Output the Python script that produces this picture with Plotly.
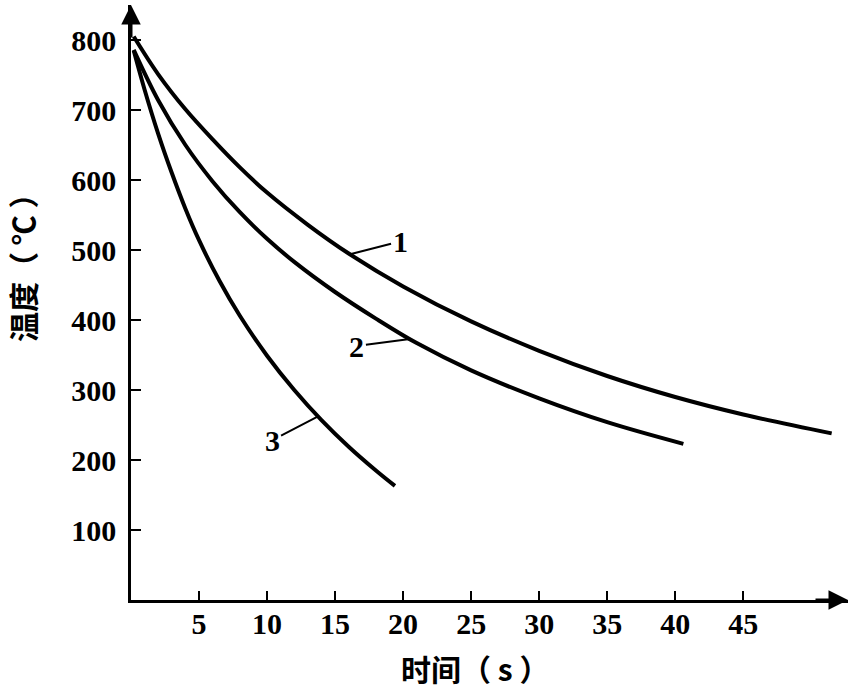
import numpy as np
import plotly.graph_objects as go

# ---- data ----
time_1 = [0.2, 2, 4, 6, 8, 10, 13, 16, 20, 25, 30, 35, 40, 45, 51.5]
temp_1 = [805, 751, 701, 658, 618, 582, 536, 495, 448, 398, 356, 320, 290, 265, 238]

time_2 = [0.2, 2, 4, 6, 8, 10, 12, 15, 18, 21, 25, 30, 35, 40.6]
temp_2 = [786, 714, 650, 598, 554, 516, 483, 440, 402, 367, 328, 288, 254, 223]

time_3 = [0.2, 1, 2, 3, 4, 5, 6.5, 8, 10, 12, 14, 16, 18, 19.4]
temp_3 = [785, 729, 666, 610, 559, 514, 456, 406, 349, 300, 257, 219, 185, 163]

curve_names = ["1", "2", "3"]
label_times = [16.1, 20.5, 13.75]          # where each leader line touches its curve
label_offsets = [(50, -13), (-53, 7), (-46, 24)]  # pixel offsets of the number from that point

x_ticks = [5, 10, 15, 20, 25, 30, 35, 40, 45]
y_ticks = [100, 200, 300, 400, 500, 600, 700, 800]

x_title = "时间（ s ）"
y_title = "温度（ ℃ ）"

X_MAX = 52.7
Y_MAX = 850

series = [(time_1, temp_1), (time_2, temp_2), (time_3, temp_3)]

fig = go.Figure()
for (t, T), name in zip(series, curve_names):
    fig.add_trace(go.Scatter(
        x=t, y=T, mode="lines", name=name,
        line=dict(color="black", width=4, shape="spline", smoothing=1.0),
        showlegend=False, hoverinfo="skip"))

serif = dict(family="Liberation Serif", size=30, color="black", weight="bold")
cjk = dict(family="Noto Sans CJK SC", size=30, color="black", weight="bold")

annotations = []
for (t, T), name, lt, (ox, oy) in zip(series, curve_names, label_times, label_offsets):
    annotations.append(dict(
        x=lt, y=float(np.interp(lt, t, T)), xref="x", yref="y",
        text=name, font=serif, showarrow=True, arrowhead=0,
        arrowwidth=2, arrowcolor="black", ax=ox, ay=oy))

# axis arrow heads
annotations.append(dict(x=X_MAX, y=0, xref="x", yref="y", text="", showarrow=True,
                        arrowhead=2, arrowsize=1.3, arrowwidth=3, arrowcolor="black",
                        ax=-34, ay=0))
annotations.append(dict(x=0, y=Y_MAX, xref="x", yref="y", text="", showarrow=True,
                        arrowhead=2, arrowsize=1.3, arrowwidth=3, arrowcolor="black",
                        ax=0, ay=34))

# axis titles
annotations.append(dict(x=(475 - 131) / 717, y=(600 - 668) / 595, xref="paper", yref="paper",
                        xanchor="center", yanchor="middle",
                        text=x_title, font=cjk, showarrow=False))
annotations.append(dict(x=(22 - 131) / 717, y=(600 - 260) / 595, xref="paper", yref="paper",
                        xanchor="center", yanchor="middle",
                        text=y_title, font=cjk, showarrow=False, textangle=-90))

fig.update_layout(
    width=851, height=693,
    margin=dict(l=131, r=3, t=5, b=93),
    paper_bgcolor="white", plot_bgcolor="white",
    annotations=annotations,
    xaxis=dict(range=[0, X_MAX], showline=True, linewidth=2.5, linecolor="black",
               ticks="inside", ticklen=9, tickwidth=2, tickcolor="black",
               tickvals=x_ticks, ticktext=[str(v) for v in x_ticks],
               tickfont=serif, showgrid=False, zeroline=False, ticklabelstandoff=-5),
    yaxis=dict(range=[0, Y_MAX], showline=True, linewidth=2.5, linecolor="black",
               ticks="inside", ticklen=10, tickwidth=2, tickcolor="black",
               tickvals=y_ticks, ticktext=[str(v) for v in y_ticks],
               tickfont=serif, showgrid=False, zeroline=False, ticklabelstandoff=6),
)

fig.write_html("out.html", config={"displayModeBar": False},
               post_script="document.body.style.margin='0';")
